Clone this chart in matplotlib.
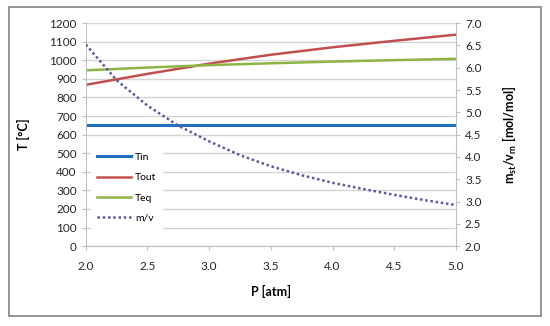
import numpy as np
import matplotlib
matplotlib.use('Agg')
import matplotlib.pyplot as plt
from matplotlib.patches import Rectangle

plt.rcParams['font.family'] = ['Lato', 'DejaVu Sans']
plt.rcParams['mathtext.fontset'] = 'custom'
plt.rcParams['mathtext.rm'] = 'Lato'
plt.rcParams['mathtext.bf'] = 'Lato:bold'

# data
p_lines = [2.0, 2.5, 3.0, 3.5, 4.0, 4.5, 5.0]
t_in = [650, 650, 650, 650, 650, 650, 650]
t_out = [868, 927, 982, 1030, 1070, 1105, 1138]
t_eq = [946, 961, 974, 984, 993, 1001, 1008]

p_mv = [2.0, 2.25, 2.5, 2.75, 3.0, 3.25, 3.5, 3.75, 4.0, 4.25, 4.5, 4.75, 5.0]
m_v = [6.52, 5.72, 5.15, 4.70, 4.35, 4.04, 3.79, 3.59, 3.42, 3.28, 3.15, 3.03, 2.92]

left_ticks = np.arange(0, 1201, 100)
right_ticks = np.arange(2.0, 7.01, 0.5)
x_ticks = np.arange(2.0, 5.01, 0.5)

fig = plt.figure(figsize=(5.5, 3.26), dpi=100)
ax = fig.add_axes([0.156, 0.245, 0.673, 0.684])
ax2 = ax.twinx()

fig.patches.append(Rectangle((0.016, 0.031), 0.968, 0.948, transform=fig.transFigure,
                             fill=False, edgecolor='#8c8c8c', linewidth=1.3))

l1, = ax.plot(p_lines, t_in, color='#1f6fc0', lw=2.2, label='Tin')
l2, = ax.plot(p_lines, t_out, color='#c0504d', lw=1.8, label='Tout')
l3, = ax.plot(p_lines, t_eq, color='#8db543', lw=1.8, label='Teq')
l4, = ax2.plot(p_mv, m_v, color='#5a5a9c', lw=1.8, linestyle=(0, (1, 1.1)), label='m/v')

ax.set_xlim(2.0, 5.0)
ax.set_ylim(0, 1200)
ax2.set_ylim(2.0, 7.0)
ax.set_xticks(x_ticks)
ax.set_yticks(left_ticks)
ax2.set_yticks(right_ticks)
ax.set_xticklabels([f'{v:.1f}' for v in x_ticks])
ax2.set_yticklabels([f'{v:.1f}' for v in right_ticks])

ax.grid(axis='y', color='#d4d4d4', lw=1)
ax.set_axisbelow(True)

for a in (ax, ax2):
    a.spines['top'].set_visible(False)
    for s in ('left', 'right', 'bottom'):
        a.spines[s].set_color('#bfbfbf')
    a.tick_params(colors='#bfbfbf', labelcolor='#262626', labelsize=8.5, length=3)
ax.spines['right'].set_visible(False)
ax2.spines['left'].set_visible(False)
ax2.spines['bottom'].set_visible(False)
ax.tick_params(axis='x', pad=8)

ax.set_xlabel('P [atm]', fontsize=9, fontweight='bold', labelpad=9)
ax.set_ylabel('T [°C]', fontsize=9, fontweight='bold', labelpad=14)
ax2.set_ylabel(r'm$_\mathbf{st}$/v$_\mathbf{rn}$ [mol/mol]', fontsize=9,
               fontweight='bold', labelpad=14)

leg = ax2.legend(handles=[l1, l2, l3, l4], loc='upper left',
                 bbox_to_anchor=(0.0, 0.47), frameon=True, fontsize=7.5,
                 handlelength=3.2, labelspacing=1.05, borderpad=0.6,
                 handletextpad=0.4, fancybox=False)
leg.get_frame().set_edgecolor('white')
leg.get_frame().set_facecolor('white')
leg.get_frame().set_alpha(1)

fig.savefig('out.png', dpi=100)
